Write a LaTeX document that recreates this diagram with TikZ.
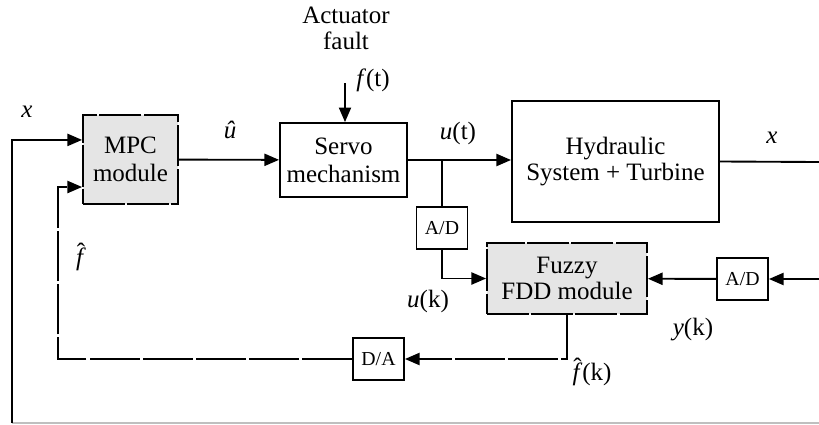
\documentclass[tikz,border=0pt]{standalone}
\usepackage{fontspec}
\setmainfont{Liberation Serif}
\usetikzlibrary{arrows.meta,positioning}
\newcommand{\hatf}{\ooalign{\textit{f}\cr\hidewidth\raisebox{0.2em}{ˆ}\hidewidth\cr}}

\begin{document}
\begin{tikzpicture}[
  x=0.48pt, y=-0.48pt,
  font=\fontsize{12}{13.5}\selectfont,
  box/.style={draw, line width=0.9pt, align=center, inner sep=0pt},
  gbox/.style={box, fill=black!10, dash pattern=on 20pt off 1.2pt},
  conv/.style={draw, line width=0.9pt, inner sep=0pt, minimum width=24.5pt, minimum height=20.2pt, font=\fontsize{9.5}{11}\selectfont},
  lbl/.style={inner sep=0pt},
  arrow/.style={-{Triangle[length=7pt,width=5.8pt]}, line width=0.9pt},
  line/.style={line width=0.9pt},
  fb/.style={arrow, dash pattern=on 24pt off 1.5pt}
]
\useasboundingbox (0,0) rectangle (819,424);
\node[gbox, minimum width=45.6pt, minimum height=42.7pt] (mpc) at (130.5,159.5) {MPC\\module};
\node[box, minimum width=61pt, minimum height=35.5pt] (servo) at (343.5,160) {Servo\\mechanism};
\node[box, minimum width=99.4pt, minimum height=58.1pt, font=\fontsize{12}{12.5}\selectfont] (hyd) at (615.5,161.5) {Hydraulic\\System + Turbine};
\node[conv] (adl) at (442,228) {A/D};
\node[gbox, minimum width=76.8pt, minimum height=34.1pt, font=\fontsize{12}{12.5}\selectfont] (fdd) at (567,278.5) {Fuzzy\\FDD module};
\node[conv] (adr) at (742.5,279) {A/D};
\node[conv] (da) at (378.5,359) {D/A};
\node[lbl, align=center, font=\fontsize{12}{12.5}\selectfont] (fault) at (346,28) {Actuator\\fault};
\node[lbl] (lft) at (373,80) {\textit{f}(t)};
\node[lbl] (lx) at (27,112) {\textit{x}};
\node[lbl] (luh) at (230,130) {\textit{û}};
\node[lbl] (lut) at (458,133) {\textit{u}(t)};
\node[lbl] (lxo) at (772,138) {\textit{x}};
\node[lbl] (luk) at (428,301) {\textit{u}(k)};
\node[lbl] (lyk) at (693,330) {\textit{y}(k)};
\node[lbl] (lfk) at (592,374) {\hatf(k)};
\node[lbl] (lfh) at (81,257) {\hatf};
\coordinate (ft) at (345,83);
\coordinate (br) at (servo.east -| adl);
\coordinate (xout) at (819,162);
\coordinate (yin) at (819,279);
\coordinate (xbl) at (12,423);
\coordinate (xbr) at (819,423);
\coordinate (fbc) at (58,359);
\draw[arrow] (ft) -- (ft |- servo.north);
\draw[arrow] (mpc) -- (servo);
\draw[arrow] (servo.east) -- (servo.east -| hyd.west);
\draw[line] (br) -- (adl);
\draw[arrow] (adl) |- (fdd);
\draw[line] (hyd.east) -- (xout);
\draw[arrow] (yin) -- (adr);
\draw[arrow] (adr) -- (fdd);
\draw[fb] (fdd) |- (da);
\draw[fb] (da) -- (fbc) |- ([yshift=-13.2pt]mpc.west);
\draw[black!25, line width=0.6pt] (xbl) -- (xbr);
\draw[arrow] (xbl) |- ([yshift=9.4pt]mpc.west);
\end{tikzpicture}
\end{document}
